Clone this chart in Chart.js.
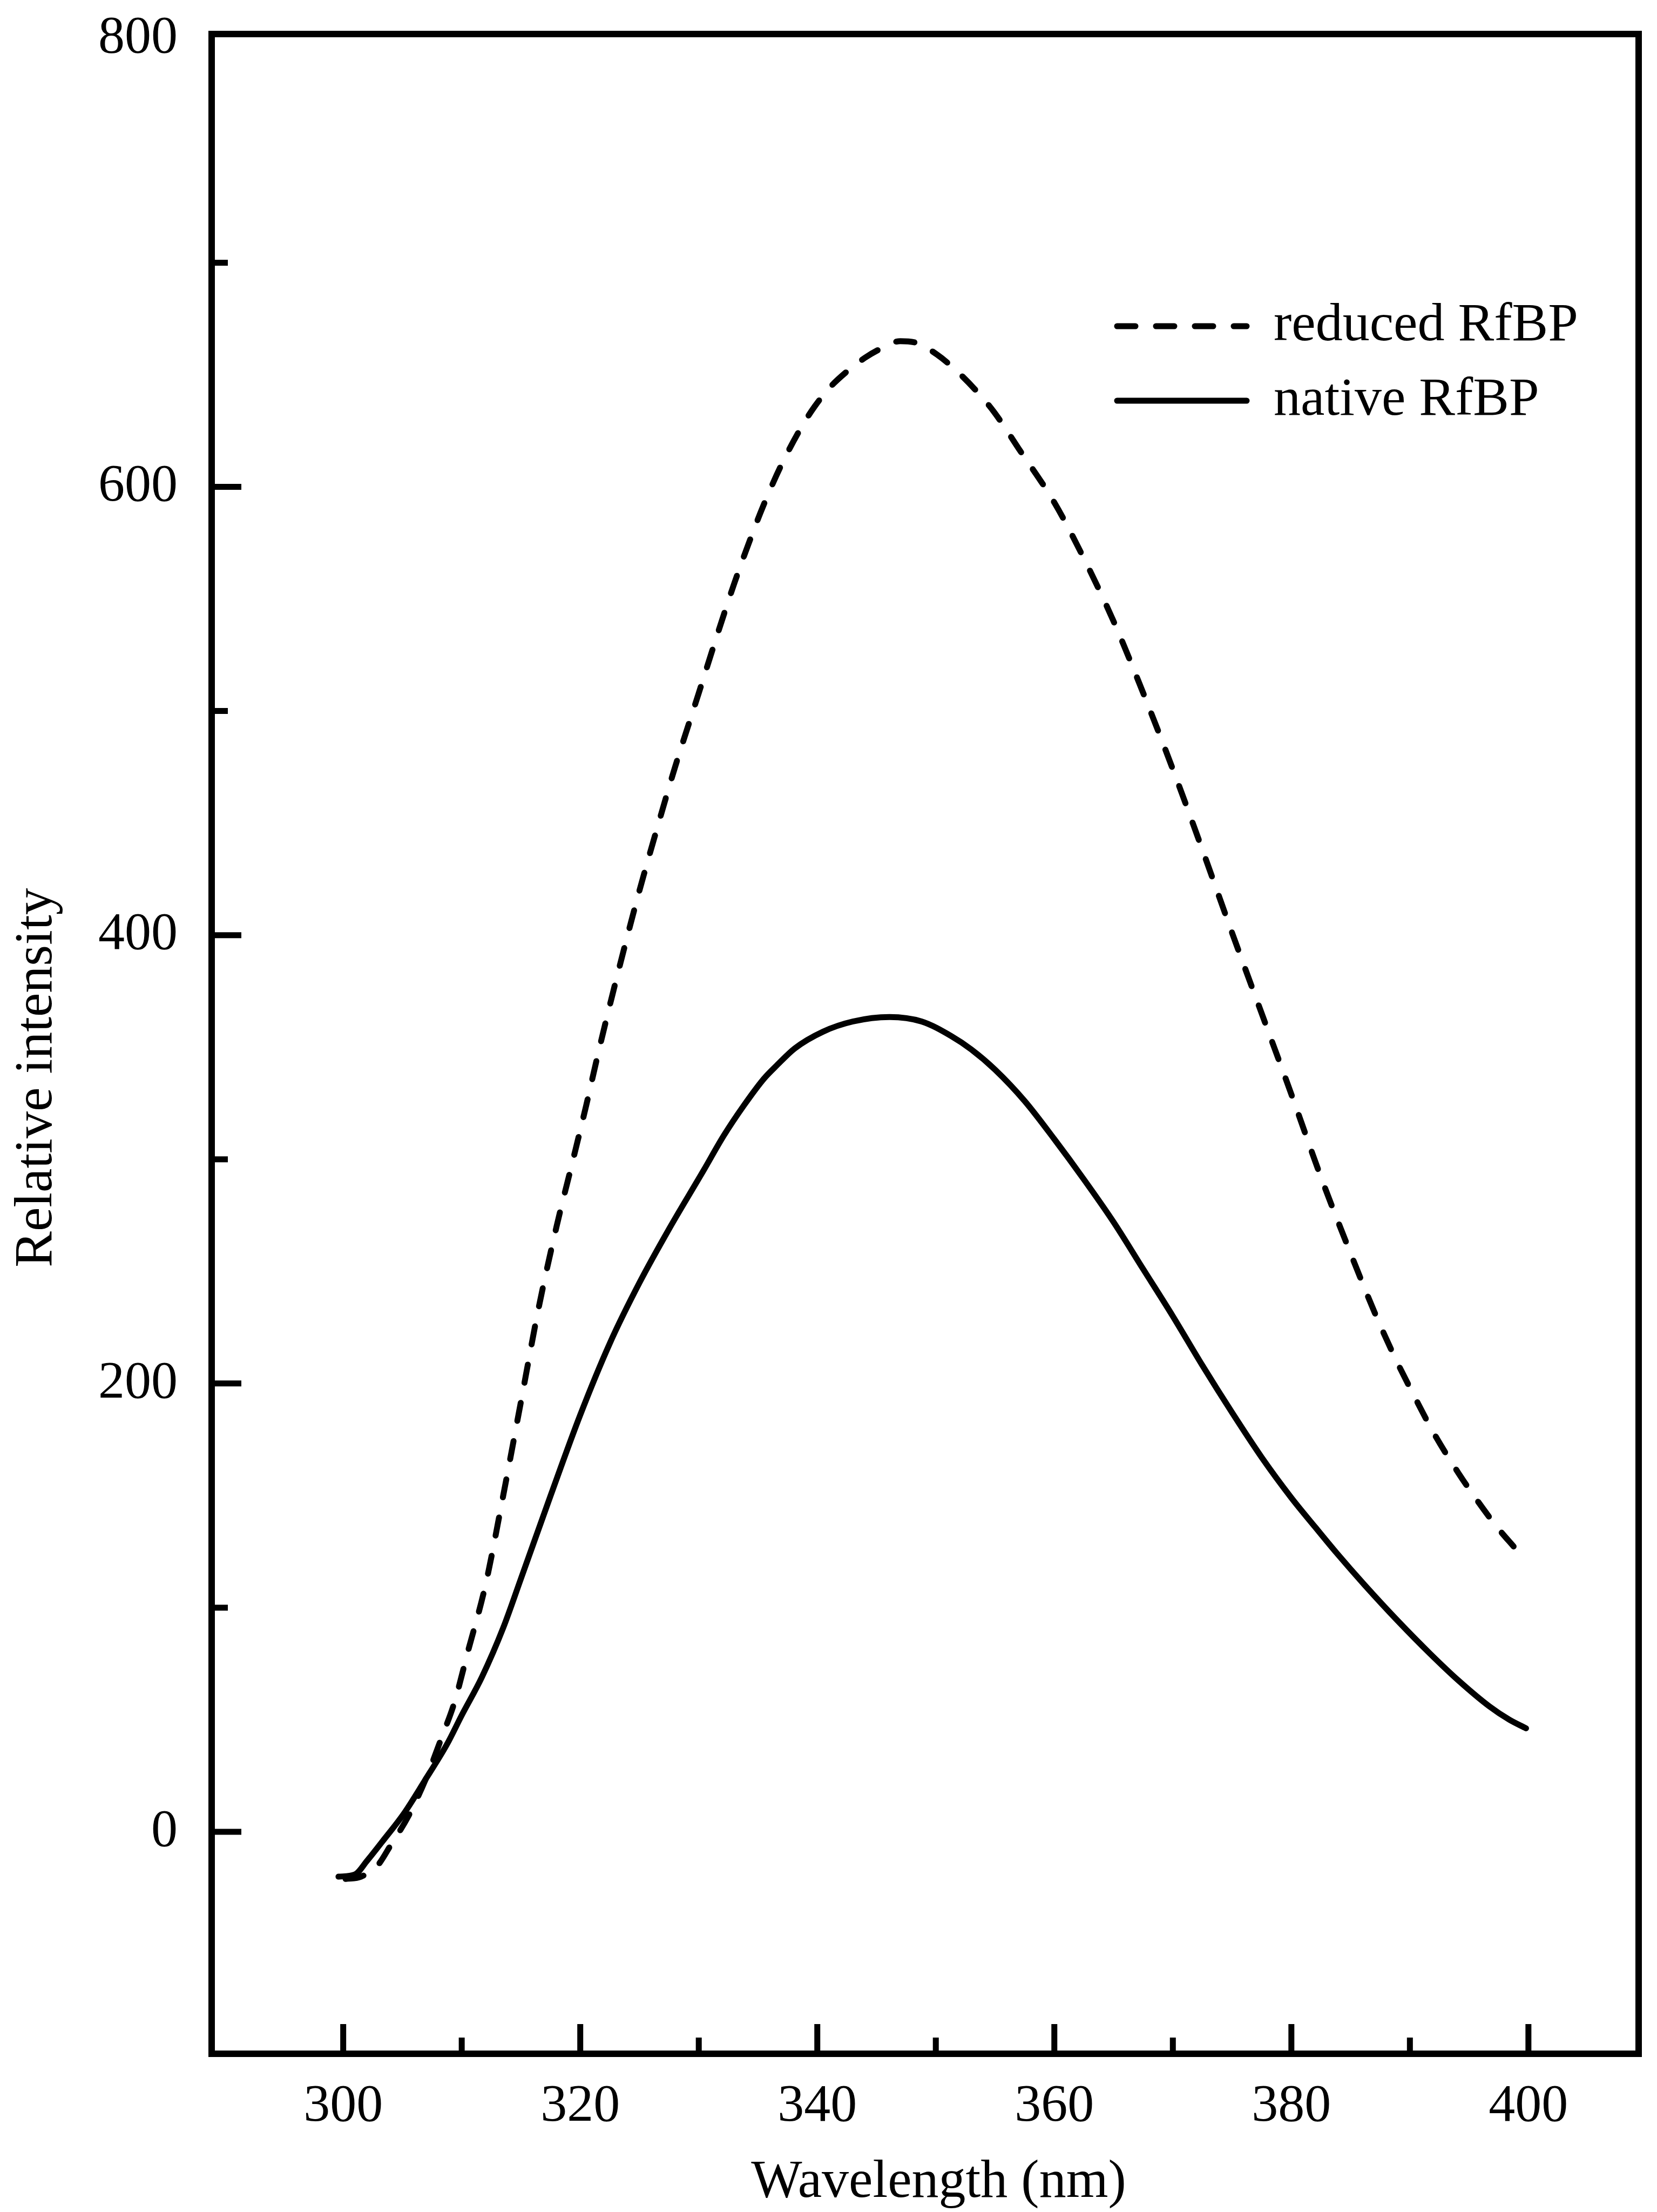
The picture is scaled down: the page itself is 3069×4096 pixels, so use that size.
<!DOCTYPE html>
<html>
<head>
<meta charset="utf-8">
<script src="https://cdn.jsdelivr.net/npm/chart.js@4.4.1/dist/chart.umd.min.js"></script>
<style>
  html, body { margin: 0; padding: 0; background: #fff; }
  #wrap { width: 3069px; height: 4096px; }
</style>
</head>
<body>
<div id="wrap"><canvas id="c" width="3069" height="4096"></canvas></div>
<script>
// Fluorescence emission spectra, reduced vs native RfBP.
// Values.

const WL_REDUCED = [300.2, 301.5, 302.9, 304, 305.5, 307, 308.3, 309.4, 310.5, 312, 313.5, 315, 316.5, 318,
  319.4, 320.5, 321.5, 322.6, 323.8, 325, 326.5, 328, 330, 331.5, 333, 334.3, 335.4, 336.9, 338.7, 339.8,
  341, 342.4, 344, 345.3, 347, 348.5, 350.1, 351.6, 353.3, 354.9, 357, 360, 362.5, 365, 367.5, 370,
  372.5, 375, 377.5, 380, 382.5, 385, 387, 388.7, 390.5, 392, 394.1, 396.2, 397.5, 398.8];
const INT_REDUCED = [-21, -20, -15, -6, 7, 24, 42, 58, 80, 110, 150, 192, 234, 270,
  300, 324, 347, 371, 396, 420, 448, 475, 508, 533, 557, 576, 591, 609, 627, 636,
  644, 651, 657.5, 661.5, 665, 664, 659, 652.5, 643.5, 633.5, 617, 593, 568, 540, 508, 474,
  438, 401, 365, 329, 292, 258, 232, 212, 193, 178, 160, 144, 135, 127];

const WL_NATIVE = [299.6, 301, 302, 303.5, 305.1, 306.9, 308.75, 310, 311.7, 313.5, 315, 317.5, 320, 322.5,
  325, 327.5, 330.4, 332.1, 333.8, 335.5, 336.6, 338.1, 340.5, 343, 346.1, 348.8, 351.3, 353,
  355, 357.5, 360, 362.5, 365, 367.5, 370, 372.5, 375, 377.5, 380, 382, 383.8, 386.2, 389, 391.7,
  394.1, 396.7, 398.4, 399.8];
const INT_NATIVE = [-20, -19, -13, -3, 8, 23, 39, 52, 69, 91, 113, 150, 186, 218,
  245, 269, 295, 310.5, 324, 336, 342, 349.5, 357, 361.5, 363.5, 361.5, 355, 349,
  340, 326, 309, 291, 272, 251, 230, 208, 187, 167, 149, 136, 124.5, 110, 94, 79.5,
  67.5, 56, 50, 46.2];

const X_TICKS = [300, 310, 320, 330, 340, 350, 360, 370, 380, 390, 400];
const X_LABELED = [300, 320, 340, 360, 380, 400];
const Y_TICKS = [0, 100, 200, 300, 400, 500, 600, 700, 800];
const Y_LABELED = [0, 200, 400, 600, 800];

const FONT = "'Liberation Serif', 'Times New Roman', serif";
const MAJOR_LEN = 55;
const MINOR_LEN = 30;

function pts(xs, ys) { return xs.map((x, i) => ({ x, y: ys[i] })); }

// Ticks in this figure point into the plot, and majors are longer than minors.
const inwardTicks = {
  id: 'inwardTicks',
  afterDatasetsDraw(chart) {
    const { ctx, chartArea: a, scales: { x, y } } = chart;
    ctx.save();
    ctx.strokeStyle = '#000';
    ctx.lineWidth = 11;
    ctx.beginPath();
    x.ticks.forEach(t => {
      const px = x.getPixelForValue(t.value);
      const len = X_LABELED.includes(t.value) ? MAJOR_LEN : MINOR_LEN;
      ctx.moveTo(px, a.bottom);
      ctx.lineTo(px, a.bottom - len);
    });
    y.ticks.forEach(t => {
      const py = y.getPixelForValue(t.value);
      if (py - a.top < 20) return; // 800 sits on the frame
      const len = Y_LABELED.includes(t.value) ? MAJOR_LEN : MINOR_LEN;
      ctx.moveTo(a.left, py);
      ctx.lineTo(a.left + len, py);
    });
    ctx.stroke();
    ctx.lineWidth = 12;
    ctx.strokeRect(a.left, a.top, a.right - a.left, a.bottom - a.top);
    ctx.restore();
  }
};

// Put the legend box in the upper right of the plot, like the original.
const legendSpot = {
  id: 'legendSpot',
  afterLayout(chart) {
    const lg = chart.legend;
    if (!lg) return;
    lg.left = 2031;
    lg.top = 516;
    lg.right = lg.left + lg.width;
    lg.bottom = lg.top + lg.height;
  }
};

Chart.defaults.color = '#000';
Chart.defaults.font.family = FONT;

new Chart(document.getElementById('c'), {
  type: 'line',
  data: {
    datasets: [
      {
        label: 'reduced RfBP',
        data: pts(WL_REDUCED, INT_REDUCED),
        borderColor: '#000',
        borderWidth: 11,
        borderDash: [34, 38],
        borderCapStyle: 'round',
        pointRadius: 0,
        pointStyle: 'line',
        fill: false,
        cubicInterpolationMode: 'monotone',
      },
      {
        label: 'native RfBP',
        data: pts(WL_NATIVE, INT_NATIVE),
        borderColor: '#000',
        borderWidth: 11,
        borderCapStyle: 'round',
        pointRadius: 0,
        pointStyle: 'line',
        fill: false,
        cubicInterpolationMode: 'monotone',
      },
    ],
  },
  options: {
    responsive: false,
    devicePixelRatio: 1,
    animation: false,
    layout: { padding: { top: 63, right: 34, left: 0, bottom: 0 } },
    plugins: {
      tooltip: { enabled: false },
      legend: {
        position: 'chartArea',
        align: 'start',
        labels: {
          usePointStyle: true,
          pointStyle: 'line',
          pointStyleWidth: 240,
          padding: 38,
          color: '#000',
          font: { family: FONT, size: 100 },
          generateLabels: chart => chart.data.datasets.map((ds, i) => ({
            text: ds.label,
            fillStyle: ds.borderColor,
            strokeStyle: ds.borderColor,
            lineWidth: ds.borderWidth,
            lineDash: ds.borderDash || [],
            lineCap: ds.borderCapStyle,
            pointStyle: 'line',
            fontColor: '#000',
            hidden: false,
            datasetIndex: i,
          })),
        },
      },
    },
    scales: {
      x: {
        type: 'linear',
        min: 288.9,
        max: 409.3,
        afterBuildTicks: axis => { axis.ticks = X_TICKS.map(v => ({ value: v })); },
        afterFit: s => { s.height = 293; s.paddingLeft = 0; s.paddingRight = 0; },
        grid: { display: false, drawTicks: false },
        border: { display: false },
        ticks: {
          autoSkip: false,
          maxRotation: 0,
          padding: 39,
          font: { family: FONT, size: 98 },
          callback: v => X_LABELED.includes(v) ? String(v) : '',
        },
        title: {
          display: true,
          text: '  Wavelength (nm)',
          font: { family: FONT, size: 100, lineHeight: 1 },
          padding: { top: 0, bottom: 4 },
        },
      },
      y: {
        type: 'linear',
        min: -99,
        max: 802,
        afterBuildTicks: axis => { axis.ticks = Y_TICKS.map(v => ({ value: v })); },
        afterFit: s => { s.width = 392; s.paddingTop = 0; s.paddingBottom = 0; },
        grid: { display: false, drawTicks: false },
        border: { display: false },
        ticks: {
          autoSkip: false,
          padding: 63,
          font: { family: FONT, size: 98 },
          callback: v => Y_LABELED.includes(v) ? String(v) : '',
        },
        title: {
          display: true,
          text: 'Relative intensity     ',
          font: { family: FONT, size: 100, lineHeight: 1 },
          padding: { top: 19, bottom: 0 },
        },
      },
    },
  },
  plugins: [inwardTicks, legendSpot],
});
</script>
</body>
</html>
